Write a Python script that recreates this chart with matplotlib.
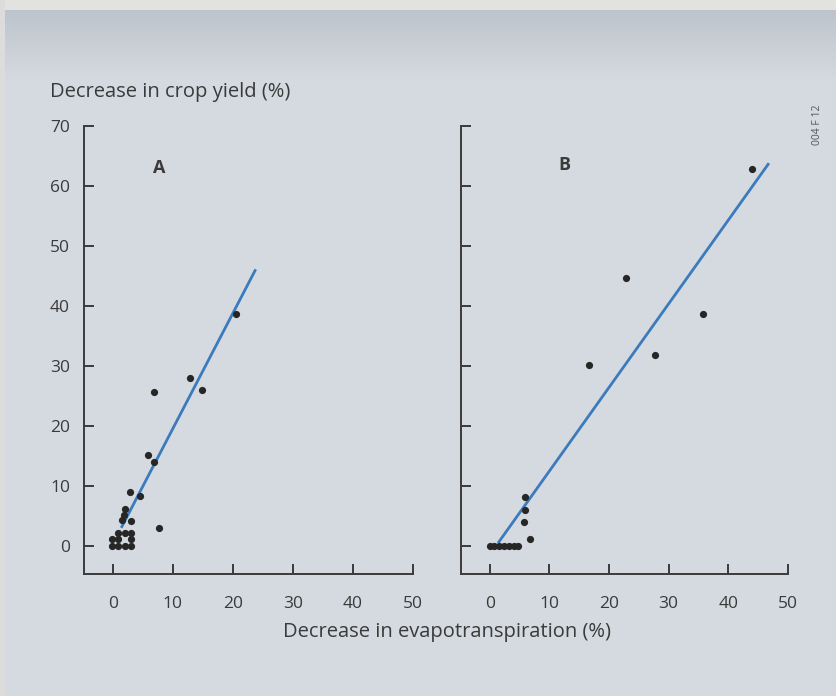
"""Crop yield loss against evapotranspiration deficit, two sites side by side."""
import numpy as np
import matplotlib
matplotlib.use("Agg")
import matplotlib.pyplot as plt

plt.rcParams['font.family'] = ['Open Sans', 'DejaVu Sans']

# Panel A: measured points (evapotranspiration decrease %, yield decrease %)
a_x = [12.9, 14.9, 6.9, 5.9, 6.8, 2.9, 4.5, 2.0, 1.8, 1.6, 3.1, 7.7,
       0.8, 2.0, 3.0, -0.2, 0.8, 3.0, -0.2, 0.8, 2.0, 3.0, 20.5]
a_y = [28.0, 26.0, 25.7, 15.1, 14.0, 8.9, 8.3, 6.2, 5.2, 4.3, 4.1, 3.0,
       2.2, 2.2, 2.2, 1.1, 1.1, 1.1, 0.0, 0.0, 0.0, 0.0, 38.7]
# Panel A regression line ends
a_line_x = [1.4, 23.8]
a_line_y = [3.0, 46.1]

# Panel B
b_x = [43.9, 22.9, 35.7, 27.7, 16.7, 5.95, 5.95, 5.8, 6.8,
       0.0, 0.8, 1.6, 2.4, 3.2, 4.0, 4.8]
b_y = [62.9, 44.7, 38.7, 31.8, 30.2, 8.1, 5.9, 3.95, 1.1,
       0.0, 0.0, 0.0, 0.0, 0.0, 0.0, 0.0]
b_line_x = [1.4, 46.8]
b_line_y = [0.45, 63.8]

x_ticks = [0, 10, 20, 30, 40, 50]
y_ticks = [0, 10, 20, 30, 40, 50, 60, 70]

BG = "#d5dae0"
INK = "#3a3a3a"
LINE = "#3b7bbd"

fig = plt.figure(figsize=(8.37, 6.96), dpi=100, facecolor=BG)

# paper tone: pale strip on top, darker band fading down
bg = fig.add_axes([0, 0, 1, 1], zorder=-10)
bg.set_axis_off()
rows = np.ones((696, 1, 3)) * np.array([213, 218, 224]) / 255
top = np.array([226, 226, 224]) / 255
band = np.array([190, 196, 204]) / 255
rows[:10] = top
for i in range(10, 80):
    t = (i - 10) / 70
    rows[i] = band * (1 - t) + rows[i] * t
bg.imshow(rows, aspect="auto", extent=[0, 1, 0, 1])
bg.axvspan(0, 5 / 837, color="#dcdcdc", lw=0)
bg.set_xlim(0, 1)
bg.set_ylim(0, 1)

panels = [
    ("A", [84 / 837, 122 / 696, 329 / 837, 448 / 696], a_x, a_y, a_line_x, a_line_y, True, (7.8, 63)),
    ("B", [461 / 837, 122 / 696, 327 / 837, 448 / 696], b_x, b_y, b_line_x, b_line_y, False, (12.5, 63.5)),
]

for name, rect, xs, ys, lx, ly, show_y, lab in panels:
    ax = fig.add_axes(rect)
    ax.patch.set_alpha(0)
    ax.plot(lx, ly, color=LINE, lw=2, solid_capstyle="butt", zorder=2)
    ax.scatter(xs, ys, s=27, color="#262626", lw=0, zorder=3)
    ax.set_xlim(-4.8, 50)
    ax.set_ylim(-4.7, 70)
    ax.set_xticks(x_ticks)
    ax.set_yticks(y_ticks)
    for s in ("top", "right"):
        ax.spines[s].set_visible(False)
    for s in ("left", "bottom"):
        ax.spines[s].set_color(INK)
        ax.spines[s].set_linewidth(1.4)
    ax.tick_params(direction="in", length=7, width=1.4, color=INK,
                   labelsize=12.5, labelcolor=INK)
    ax.tick_params(axis="x", pad=16)
    ax.tick_params(axis="y", pad=10, labelleft=show_y)
    ax.text(lab[0], lab[1], name, fontsize=13, fontweight="bold",
            color=INK, ha="center", va="center")

fig.text(50 / 837, 1 - 92 / 696, "Decrease in crop yield (%)", fontsize=14.5,
         color=INK, ha="left", va="center")
fig.text(447 / 837, 1 - 632 / 696, "Decrease in evapotranspiration (%)",
         fontsize=14.5, color=INK, ha="center", va="center")
fig.text(818 / 837, 1 - 125 / 696, "004 F 12", fontsize=7.5, color="#555555",
         rotation=90, ha="center", va="center")

fig.savefig("out.png", dpi=100, facecolor=BG)
